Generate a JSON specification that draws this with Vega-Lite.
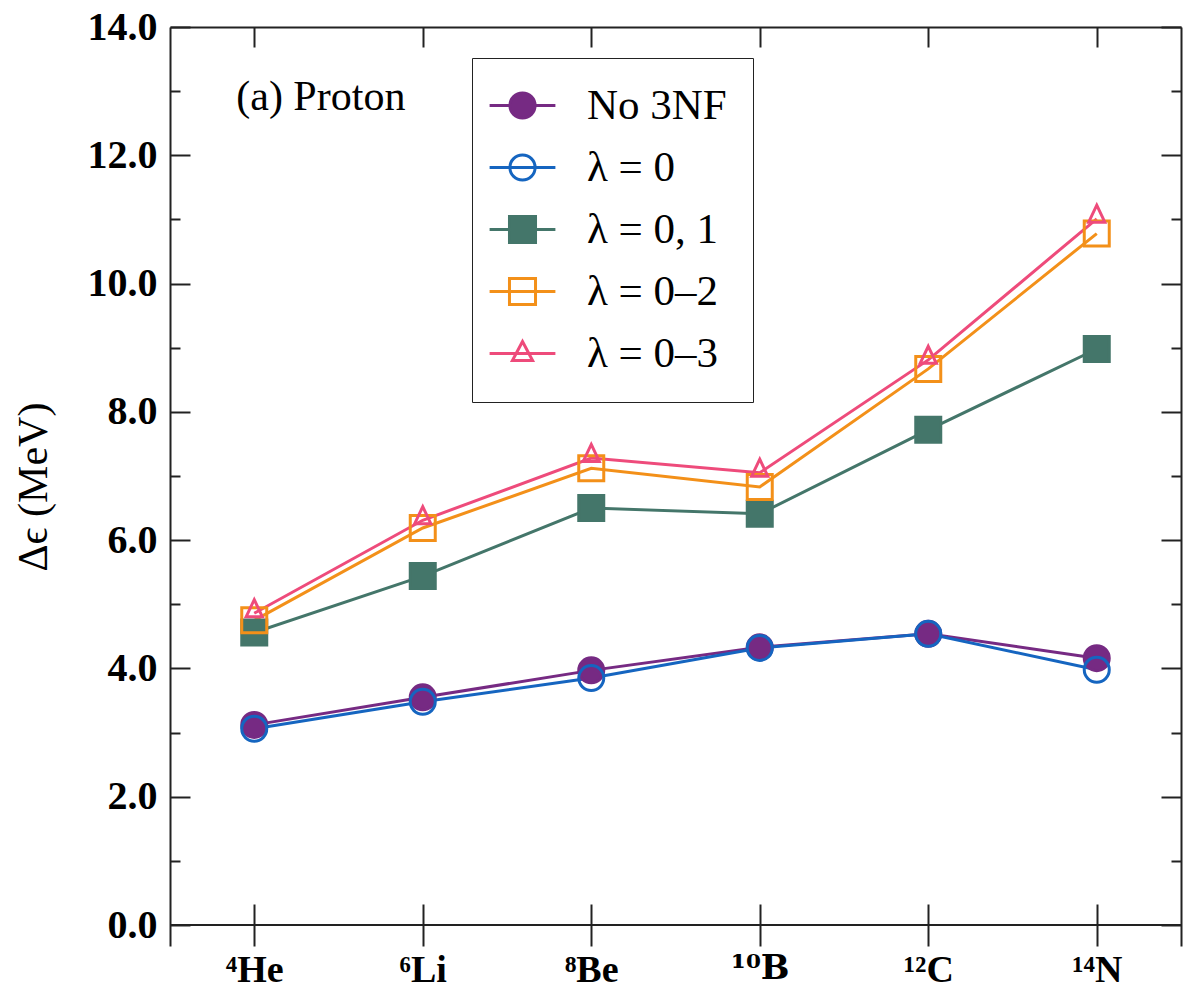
{
  "$schema": "https://vega.github.io/schema/vega-lite/v6.json",
  "width": 1011,
  "height": 919,
  "autosize": {"type": "none"},
  "padding": {"left": 170, "top": 27, "right": 2, "bottom": 45},
  "background": "white",
  "config": {
    "view": {"stroke": null},
    "font": "Liberation Serif",
    "axis": {
      "grid": false,
      "domainColor": "#222222",
      "domainWidth": 2,
      "tickColor": "#222222",
      "tickWidth": 2,
      "labelColor": "#000000",
      "labelFont": "Liberation Serif",
      "labelFontSize": 40,
      "labelFontWeight": "bold",
      "titleColor": "#000000",
      "titleFont": "Liberation Serif",
      "titleFontWeight": "normal",
      "titleFontSize": 42
    },
    "legend": {
      "labelFont": "Liberation Serif",
      "labelFontSize": 43,
      "labelColor": "#000000",
      "symbolSize": 784,
      "symbolStrokeWidth": 3,
      "rowPadding": 18,
      "padding": 26,
      "strokeColor": "#222222",
      "fillColor": "#ffffff",
      "labelOffset": 43,
      "symbolOffset": 3,
      "labelLimit": 400
    }
  },
  "datasets": {
    "main": [
      {"series": "No 3NF", "nucleus": "⁴He", "de": 3.12},
      {"series": "No 3NF", "nucleus": "⁶Li", "de": 3.55},
      {"series": "No 3NF", "nucleus": "⁸Be", "de": 3.97},
      {"series": "No 3NF", "nucleus": "¹⁰B", "de": 4.33},
      {"series": "No 3NF", "nucleus": "¹²C", "de": 4.54},
      {"series": "No 3NF", "nucleus": "¹⁴N", "de": 4.16},
      {"series": "λ = 0", "nucleus": "⁴He", "de": 3.06},
      {"series": "λ = 0", "nucleus": "⁶Li", "de": 3.48},
      {"series": "λ = 0", "nucleus": "⁸Be", "de": 3.85},
      {"series": "λ = 0", "nucleus": "¹⁰B", "de": 4.32},
      {"series": "λ = 0", "nucleus": "¹²C", "de": 4.54},
      {"series": "λ = 0", "nucleus": "¹⁴N", "de": 3.98},
      {"series": "λ = 0, 1", "nucleus": "⁴He", "de": 4.56},
      {"series": "λ = 0, 1", "nucleus": "⁶Li", "de": 5.44},
      {"series": "λ = 0, 1", "nucleus": "⁸Be", "de": 6.50},
      {"series": "λ = 0, 1", "nucleus": "¹⁰B", "de": 6.41},
      {"series": "λ = 0, 1", "nucleus": "¹²C", "de": 7.72},
      {"series": "λ = 0, 1", "nucleus": "¹⁴N", "de": 8.98},
      {"series": "λ = 0–2", "nucleus": "⁴He", "de": 4.75},
      {"series": "λ = 0–2", "nucleus": "⁶Li", "de": 6.19},
      {"series": "λ = 0–2", "nucleus": "⁸Be", "de": 7.12},
      {"series": "λ = 0–2", "nucleus": "¹⁰B", "de": 6.83},
      {"series": "λ = 0–2", "nucleus": "¹²C", "de": 8.67},
      {"series": "λ = 0–2", "nucleus": "¹⁴N", "de": 10.78},
      {"series": "λ = 0–3", "nucleus": "⁴He", "de": 4.86},
      {"series": "λ = 0–3", "nucleus": "⁶Li", "de": 6.31},
      {"series": "λ = 0–3", "nucleus": "⁸Be", "de": 7.28},
      {"series": "λ = 0–3", "nucleus": "¹⁰B", "de": 7.05},
      {"series": "λ = 0–3", "nucleus": "¹²C", "de": 8.81},
      {"series": "λ = 0–3", "nucleus": "¹⁴N", "de": 11.01}
    ]
  },
  "layer": [
    {
      "data": {"name": "main"},
      "mark": {"type": "point", "opacity": 0, "strokeWidth": 3, "filled": true},
      "encoding": {
        "x": {"field": "nucleus", "type": "ordinal", "scale": {"type": "point", "padding": 0.5, "domain": ["⁴He", "⁶Li", "⁸Be", "¹⁰B", "¹²C", "¹⁴N"]}, "axis": null},
        "y": {"field": "de", "type": "quantitative", "scale": {"domain": [-0.327, 14], "nice": false, "zero": false}, "axis": null},
        "shape": {
          "field": "series", "type": "nominal",
          "scale": {"domain": ["No 3NF", "λ = 0", "λ = 0, 1", "λ = 0–2", "λ = 0–3"], "range": [
            "M-2.35,0L2.35,0M0.9,0A0.9,0.9,0,1,1,-0.9,0A0.9,0.9,0,1,1,0.9,0Z",
            "M-2.35,0L2.35,0M0.9,0A0.9,0.9,0,1,1,-0.9,0A0.9,0.9,0,1,1,0.9,0Z",
            "M-2.35,0L2.35,0M-0.93,-0.93L0.93,-0.93L0.93,0.93L-0.93,0.93Z",
            "M-2.35,0L2.35,0M-0.93,-0.93L0.93,-0.93L0.93,0.93L-0.93,0.93Z",
            "M-2.35,0L2.35,0M0,-0.86L0.72,0.5L-0.72,0.5Z"
          ]},
          "legend": {"orient": "none", "legendX": 302, "legendY": 31, "title": null, "direction": "vertical",
            "encode": {"symbols": {"update": {"fill": {"scale": "fill", "field": "value"}, "stroke": {"scale": "stroke", "field": "value"}, "opacity": {"value": 1}}}}}
        },
        "fill": {
          "field": "series", "type": "nominal",
          "scale": {"domain": ["No 3NF", "λ = 0", "λ = 0, 1", "λ = 0–2", "λ = 0–3"], "range": ["#762A83", "transparent", "#44766A", "transparent", "transparent"]},
          "legend": {"orient": "none", "legendX": 302, "legendY": 31, "title": null, "direction": "vertical",
            "encode": {"symbols": {"update": {"fill": {"scale": "fill", "field": "value"}, "stroke": {"scale": "stroke", "field": "value"}, "opacity": {"value": 1}}}}}
        },
        "stroke": {
          "field": "series", "type": "nominal",
          "scale": {"domain": ["No 3NF", "λ = 0", "λ = 0, 1", "λ = 0–2", "λ = 0–3"], "range": ["#762A83", "#1565C0", "#44766A", "#F39019", "#EE4B7B"]},
          "legend": {"orient": "none", "legendX": 302, "legendY": 31, "title": null, "direction": "vertical",
            "encode": {"symbols": {"update": {"fill": {"scale": "fill", "field": "value"}, "stroke": {"scale": "stroke", "field": "value"}, "opacity": {"value": 1}}}}}
        }
      }
    },
    {
      "data": {"name": "main"},
      "mark": {"type": "line", "strokeWidth": 3},
      "encoding": {
        "x": {
          "field": "nucleus", "type": "ordinal",
          "scale": {"type": "point", "padding": 0.5, "domain": ["⁴He", "⁶Li", "⁸Be", "¹⁰B", "¹²C", "¹⁴N"]},
          "axis": {"orient": "bottom", "domain": false, "tickSize": -42, "labelPadding": 47, "labelAngle": 0, "title": null, "labelFontWeight": "bold",
            "labelFont": {"condition": {"test": "datum.value === '¹⁰B'", "value": "DejaVu Serif"}, "value": "Liberation Serif"},
            "labelFontSize": {"condition": {"test": "datum.value === '¹⁰B'", "value": 34}, "value": 38}}
        },
        "y": {
          "field": "de", "type": "quantitative",
          "scale": {"domain": [-0.327, 14], "nice": false, "zero": false},
          "axis": {"orient": "left", "values": [0, 2, 4, 6, 8, 10, 12, 14], "format": ".1f", "tickSize": -20, "labelPadding": 33, "labelFlush": false, "labelOverlap": false, "title": "Δϵ (MeV)", "titlePadding": 32}
        },
        "stroke": {
          "field": "series", "type": "nominal",
          "scale": {"domain": ["No 3NF", "λ = 0", "λ = 0, 1", "λ = 0–2", "λ = 0–3"], "range": ["#762A83", "#1565C0", "#44766A", "#F39019", "#EE4B7B"]},
          "legend": null
        },
        "order": {"value": null}
      }
    },
    {
      "data": {"name": "main"},
      "transform": [{"filter": {"field": "series", "oneOf": ["No 3NF", "λ = 0"]}}],
      "mark": {"type": "point", "shape": "circle", "size": 625, "strokeWidth": 3, "opacity": 1},
      "encoding": {
        "x": {
          "field": "nucleus", "type": "ordinal",
          "scale": {"type": "point", "padding": 0.5, "domain": ["⁴He", "⁶Li", "⁸Be", "¹⁰B", "¹²C", "¹⁴N"]},
          "axis": {"orient": "top", "domain": true, "tickSize": -20, "labels": false, "title": null}
        },
        "y": {
          "field": "de", "type": "quantitative",
          "scale": {"domain": [-0.327, 14], "nice": false, "zero": false},
          "axis": {"orient": "right", "values": [0, 2, 4, 6, 8, 10, 12, 14], "tickSize": -20, "labels": false, "title": null}
        },
        "fill": {
          "field": "series", "type": "nominal",
          "scale": {"domain": ["No 3NF", "λ = 0", "λ = 0, 1", "λ = 0–2", "λ = 0–3"], "range": ["#762A83", "transparent", "#44766A", "transparent", "transparent"]},
          "legend": null
        },
        "stroke": {
          "field": "series", "type": "nominal",
          "scale": {"domain": ["No 3NF", "λ = 0", "λ = 0, 1", "λ = 0–2", "λ = 0–3"], "range": ["#762A83", "#1565C0", "#44766A", "#F39019", "#EE4B7B"]},
          "legend": null
        }
      }
    },
    {
      "data": {"name": "main"},
      "transform": [{"filter": {"field": "series", "oneOf": ["λ = 0, 1", "λ = 0–2"]}}],
      "mark": {"type": "point", "shape": "square", "size": 625, "strokeWidth": 3, "opacity": 1},
      "encoding": {
        "x": {
          "field": "nucleus", "type": "ordinal",
          "scale": {"type": "point", "padding": 0.5, "domain": ["⁴He", "⁶Li", "⁸Be", "¹⁰B", "¹²C", "¹⁴N"]},
          "axis": null
        },
        "y": {
          "field": "de", "type": "quantitative",
          "scale": {"domain": [-0.327, 14], "nice": false, "zero": false},
          "axis": {"orient": "left", "values": [1, 3, 5, 7, 9, 11, 13], "tickSize": -10, "labels": false, "domain": false, "title": null}
        },
        "fill": {
          "field": "series", "type": "nominal",
          "scale": {"domain": ["No 3NF", "λ = 0", "λ = 0, 1", "λ = 0–2", "λ = 0–3"], "range": ["#762A83", "transparent", "#44766A", "transparent", "transparent"]},
          "legend": null
        },
        "stroke": {
          "field": "series", "type": "nominal",
          "scale": {"domain": ["No 3NF", "λ = 0", "λ = 0, 1", "λ = 0–2", "λ = 0–3"], "range": ["#762A83", "#1565C0", "#44766A", "#F39019", "#EE4B7B"]},
          "legend": null
        }
      }
    },
    {
      "data": {"name": "main"},
      "transform": [{"filter": {"field": "series", "equal": "λ = 0–3"}}],
      "mark": {"type": "point", "shape": "M0,-1.6L0.95,0.4L-0.95,0.4Z", "size": 289, "strokeWidth": 3, "opacity": 1},
      "encoding": {
        "x": {
          "field": "nucleus", "type": "ordinal",
          "scale": {"type": "point", "padding": 0.5, "domain": ["⁴He", "⁶Li", "⁸Be", "¹⁰B", "¹²C", "¹⁴N"]},
          "axis": null
        },
        "y": {
          "field": "de", "type": "quantitative",
          "scale": {"domain": [-0.327, 14], "nice": false, "zero": false},
          "axis": {"orient": "right", "values": [1, 3, 5, 7, 9, 11, 13], "tickSize": -10, "labels": false, "domain": false, "title": null}
        },
        "fill": {
          "field": "series", "type": "nominal",
          "scale": {"domain": ["No 3NF", "λ = 0", "λ = 0, 1", "λ = 0–2", "λ = 0–3"], "range": ["#762A83", "transparent", "#44766A", "transparent", "transparent"]},
          "legend": null
        },
        "stroke": {
          "field": "series", "type": "nominal",
          "scale": {"domain": ["No 3NF", "λ = 0", "λ = 0, 1", "λ = 0–2", "λ = 0–3"], "range": ["#762A83", "#1565C0", "#44766A", "#F39019", "#EE4B7B"]},
          "legend": null
        }
      }
    },
    {
      "data": {"values": [{"line": "zero"}]},
      "mark": {"type": "rule", "strokeWidth": 2, "color": "#222222"},
      "encoding": {
        "y": {"datum": 0, "type": "quantitative", "scale": {"domain": [-0.327, 14], "nice": false, "zero": false}, "axis": null}
      }
    },
    {
      "data": {"values": [{"label": "(a) Proton"}]},
      "mark": {"type": "text", "align": "left", "baseline": "middle", "font": "Liberation Serif", "fontSize": 42, "color": "#000000", "dx": -18},
      "encoding": {
        "x": {"datum": "⁴He", "type": "ordinal", "scale": {"type": "point", "padding": 0.5, "domain": ["⁴He", "⁶Li", "⁸Be", "¹⁰B", "¹²C", "¹⁴N"]}, "axis": null},
        "y": {"datum": 12.91, "type": "quantitative", "scale": {"domain": [-0.327, 14], "nice": false, "zero": false}, "axis": null},
        "text": {"field": "label", "type": "nominal"}
      }
    }
  ],
  "resolve": {
    "axis": {"x": "independent", "y": "independent"},
    "legend": {"fill": "independent", "stroke": "independent", "shape": "independent"}
  }
}
